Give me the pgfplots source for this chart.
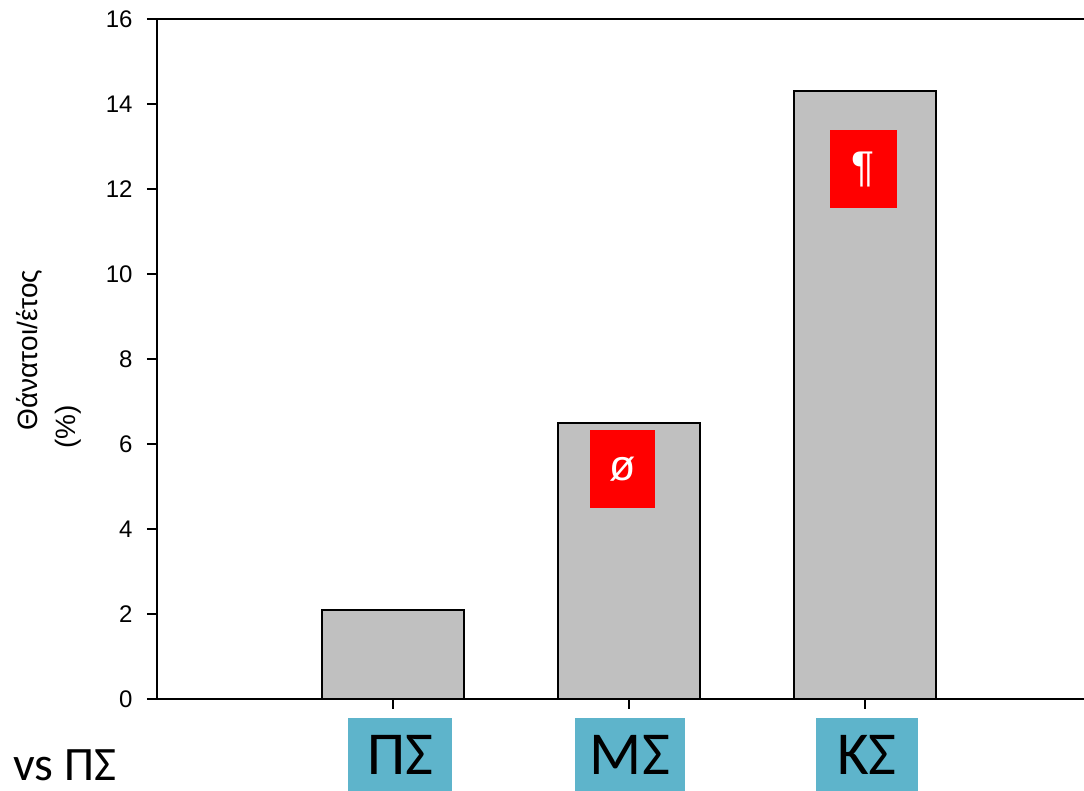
\documentclass[border=0pt]{standalone}
\usepackage{pgfplots}
\pgfplotsset{compat=1.18}
\usepackage{fontspec}
\setmainfont{Liberation Sans}
\newfontfamily\calibri{Carlito}
\definecolor{barfill}{RGB}{192,192,192}
\definecolor{labbox}{RGB}{94,180,203}
\begin{document}
\begin{tikzpicture}
\begin{axis}[
  name=ax,
  at={(0,0)}, anchor=south west,
  scale only axis, width=463.5pt, height=340pt,
  xmin=0, xmax=3.928, ymin=0, ymax=16,
  axis x line=box, axis y line*=left,
  axis line style={-, line width=1pt, black},
  xtick={1,2,3}, xticklabels={},
  ytick={0,2,...,16},
  xtick pos=left, ytick pos=left,
  tick align=outside, major tick length=5pt,
  tick style={line width=0.8pt, black},
  /pgf/number format/assume math mode=true,
  yticklabel style={font=\fontsize{12}{14}\selectfont, inner sep=0pt, xshift=-7pt},
  clip=false,
]
\addplot[ybar, bar width=0.6, fill=barfill, draw=black, line width=1pt] coordinates {(1,2.1) (2,6.5) (3,14.3)};

% category labels
\node[fill=labbox, minimum width=52pt, minimum height=37pt, inner sep=0pt, anchor=north,
  font=\calibri\fontsize{30.5}{34}\selectfont] at ([xshift=3.5pt,yshift=-9.5pt]axis cs:1,0) {ΠΣ};
\node[fill=labbox, minimum width=55pt, minimum height=37pt, inner sep=0pt, anchor=north,
  font=\calibri\fontsize{30.5}{34}\selectfont] at ([xshift=0.5pt,yshift=-9.5pt]axis cs:2,0) {ΜΣ};
\node[fill=labbox, minimum width=51pt, minimum height=37pt, inner sep=0pt, anchor=north,
  font=\calibri\fontsize{30.5}{34}\selectfont] at ([xshift=1pt,yshift=-9.5pt]axis cs:3,0) {ΚΣ};

% significance markers
\node[fill=red, minimum width=32.5pt, minimum height=39pt, inner sep=0pt, text=white,
  font=\fontsize{21.5}{24}\selectfont] at (axis cs:1.972,5.41) {ø};
\node[fill=red, minimum width=33.5pt, minimum height=39pt, inner sep=0pt, text=white,
  font=\fontsize{21.5}{24}\selectfont] at (axis cs:2.993,12.47) {¶};

% y label
\node[rotate=90, anchor=base, font=\fontsize{14}{16}\selectfont]
  at ([xshift=-59.5pt,yshift=174.5pt]rel axis cs:0,0) {Θάνατοι/έτος};
\node[rotate=90, anchor=base, font=\fontsize{14}{16}\selectfont]
  at ([xshift=-40.5pt,yshift=136pt]rel axis cs:0,0) {(\%)};

% vs label
\node[anchor=base west, inner sep=0pt, text depth=0pt, font=\calibri\fontsize{24}{28}\selectfont]
  at ([xshift=-72pt,yshift=-41pt]rel axis cs:0,0) {vs ΠΣ};
\end{axis}
\pgfresetboundingbox
\path[use as bounding box] ([xshift=-78.5pt,yshift=-46pt]ax.south west) rectangle ([yshift=9.5pt]ax.north east);
\end{tikzpicture}
\end{document}
